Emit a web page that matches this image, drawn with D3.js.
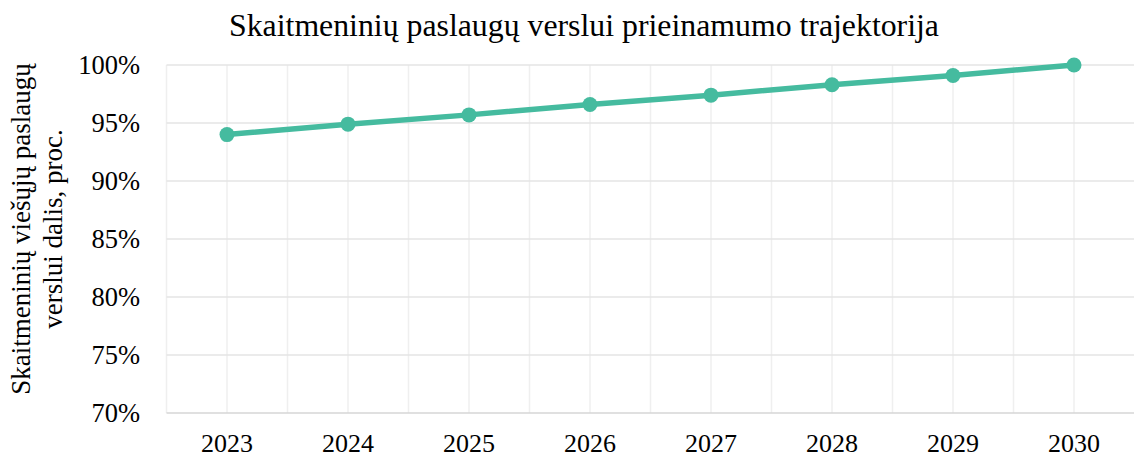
<!DOCTYPE html>
<html><head><meta charset="utf-8">
<script src="https://cdn.jsdelivr.net/npm/d3@7"></script>
<style>body{margin:0;background:#fff}svg{display:block}text{font-family:"Liberation Serif","Times New Roman",serif;fill:#000}</style>
</head><body><svg id="c" width="1134" height="459"></svg>
<script>
const years = ["2023","2024","2025","2026","2027","2028","2029","2030"];
const values = [94.0, 94.9, 95.7, 96.6, 97.4, 98.3, 99.1, 100.0];
const yTicks = [70, 75, 80, 85, 90, 95, 100];
const title = "Skaitmeninių paslaugų verslui prieinamumo trajektorija";
const yTitle = ["Skaitmeninių viešųjų paslaugų", "verslui dalis, proc."];

const svg = d3.select("#c");
const m = {left:166.5, right:1134.5, top:65, bottom:413};
const x = d3.scaleBand().domain(years).range([m.left, m.right]);
const y = d3.scaleLinear().domain([70,100]).range([m.bottom, m.top]);

// vertical grid at category centers and boundaries
const vg = [];
years.forEach(d => { vg.push(x(d)); vg.push(x(d)+x.bandwidth()/2); });
svg.append("g").selectAll("line").data(vg).join("line")
  .attr("x1", d=>d).attr("x2", d=>d).attr("y1", m.top).attr("y2", m.bottom)
  .attr("stroke", "#efefef").attr("stroke-width", 1.5);
// horizontal grid
svg.append("g").selectAll("line").data(yTicks.filter(t=>t>70)).join("line")
  .attr("x1", m.left).attr("x2", m.right).attr("y1", d=>y(d)).attr("y2", d=>y(d))
  .attr("stroke", "#e4e4e4").attr("stroke-width", 1.5);
// bottom axis line
svg.append("line").attr("x1", m.left).attr("x2", m.right).attr("y1", y(70)).attr("y2", y(70))
  .attr("stroke", "#d6d6d6").attr("stroke-width", 1.5);

// y axis labels
svg.append("g").selectAll("text").data(yTicks).join("text")
  .attr("x", 140).attr("y", d=>y(d)+8.5).attr("text-anchor","end")
  .style("font-size","26.5px").text(d=>d+"%");
// x axis labels
svg.append("g").selectAll("text").data(years).join("text")
  .attr("x", d=>x(d)+x.bandwidth()/2).attr("y", 452).attr("text-anchor","middle")
  .style("font-size","26px").text(d=>d);

// title
svg.append("text").attr("x", 584).attr("y", 36).attr("text-anchor","middle")
  .style("font-size","31.8px").text(title);
// y title
const yt = svg.append("text").attr("transform","translate(0,229) rotate(-90)")
  .attr("text-anchor","middle").style("font-size","27px");
yt.append("tspan").attr("x",0).attr("y",30).text(yTitle[0]);
yt.append("tspan").attr("x",0).attr("y",62).text(yTitle[1]);

// line
const cx = d => x(d)+x.bandwidth()/2;
const line = d3.line().x((d,i)=>cx(years[i])).y(d=>y(d));
svg.append("path").datum(values).attr("d", line).attr("fill","none")
  .attr("stroke","#45bb9f").attr("stroke-width",5.5).attr("stroke-linejoin","round");
svg.append("g").selectAll("circle").data(values).join("circle")
  .attr("cx",(d,i)=>cx(years[i])).attr("cy",d=>y(d)).attr("r",7.5)
  .attr("fill","#45bb9f");
</script></body></html>
